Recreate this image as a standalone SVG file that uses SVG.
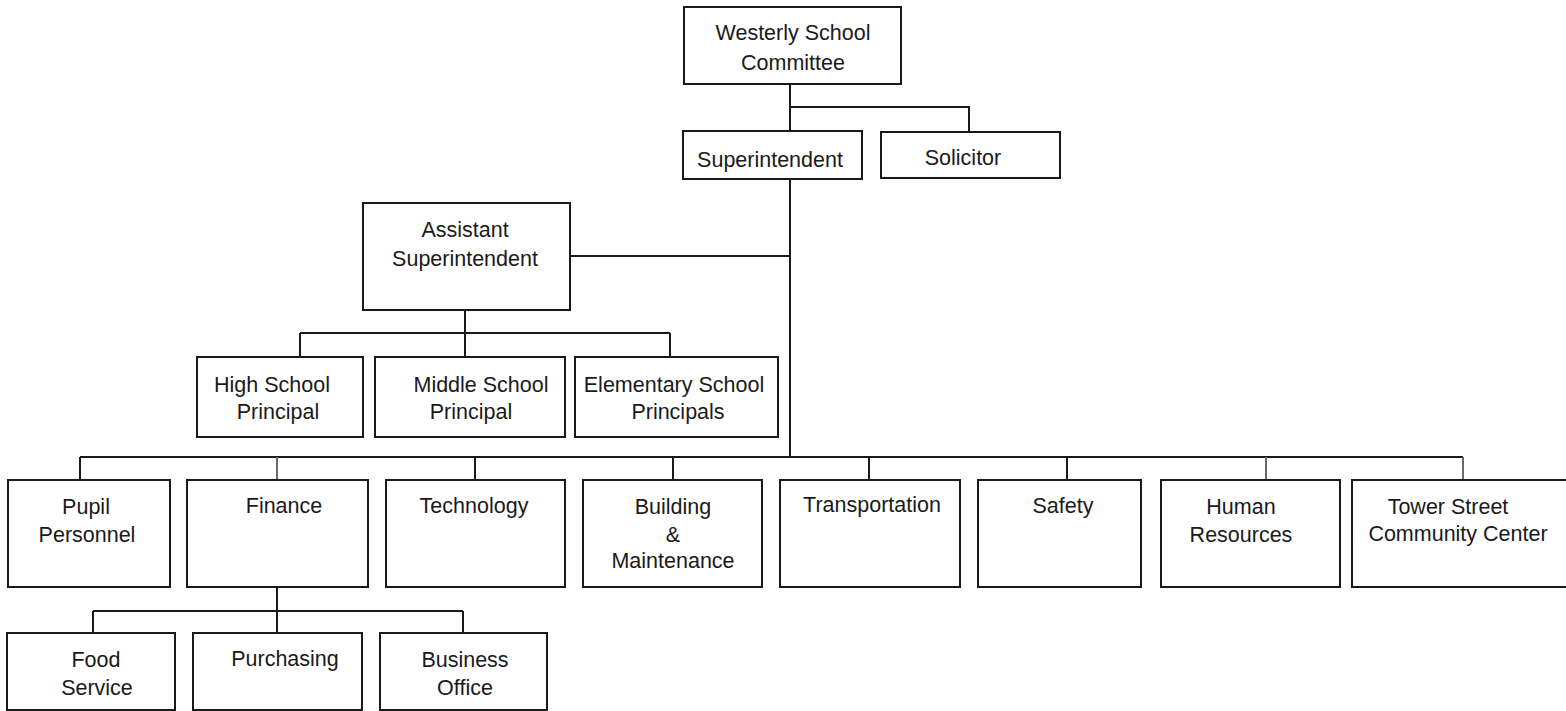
<svg xmlns="http://www.w3.org/2000/svg" width="1566" height="711" viewBox="0 0 1566 711">
<style>
.box{fill:#fff;stroke:#1a1a1a;stroke-width:2}
.ln{fill:none;stroke:#1a1a1a;stroke-width:2}
.gl{fill:none;stroke:#6a6a6a;stroke-width:2}
text{font-family:"Liberation Sans",Arial,sans-serif;font-size:21.5px;fill:#1a1a1a;text-anchor:middle}
</style>
<rect width="1566" height="711" fill="#fff"/>
<g id="connectors">
<path class="ln" d="M790,84V131M790,107H969V132M790,179V457M570,256H790"/>
<path class="ln" d="M465,310V333M300,333H670M300,333V357M465,333V357M670,333V357"/>
<path class="ln" d="M80,457H1463M80,457V480M475,457V480M673,457V480M869,457V480M1067,457V480"/>
<path class="gl" d="M277,457V480M1266,457V480M1463,457V480"/>
<path class="ln" d="M277,587V611M93,611H463M93,611V633M277,611V633M463,611V633"/>
</g>
<g id="committee"><rect class="box" x="684" y="7" width="217" height="77"/><text x="793" y="40">Westerly School</text><text x="793" y="70">Committee</text></g>
<g id="superintendent"><rect class="box" x="683" y="131" width="179" height="48"/><text x="770" y="167">Superintendent</text></g>
<g id="solicitor"><rect class="box" x="881" y="132" width="179" height="46"/><text x="963" y="165">Solicitor</text></g>
<g id="assistant"><rect class="box" x="363" y="203" width="207" height="107"/><text x="465" y="237">Assistant</text><text x="465" y="266">Superintendent</text></g>
<g id="high-school"><rect class="box" x="197" y="357" width="166" height="80"/><text x="272" y="392">High School</text><text x="278" y="419">Principal</text></g>
<g id="middle-school"><rect class="box" x="375" y="357" width="190" height="80"/><text x="481" y="392">Middle School</text><text x="471" y="419">Principal</text></g>
<g id="elementary"><rect class="box" x="575" y="357" width="203" height="80"/><text x="674" y="392">Elementary School</text><text x="678" y="419">Principals</text></g>
<g id="pupil"><rect class="box" x="8" y="480" width="162" height="107"/><text x="86" y="514">Pupil</text><text x="87" y="542">Personnel</text></g>
<g id="finance"><rect class="box" x="187" y="480" width="181" height="107"/><text x="284" y="513">Finance</text></g>
<g id="technology"><rect class="box" x="386" y="480" width="179" height="107"/><text x="474" y="513">Technology</text></g>
<g id="building"><rect class="box" x="583" y="480" width="179" height="107"/><text x="673" y="514">Building</text><text x="673" y="542">&amp;</text><text x="673" y="568">Maintenance</text></g>
<g id="transportation"><rect class="box" x="780" y="480" width="180" height="107"/><text x="872" y="512">Transportation</text></g>
<g id="safety"><rect class="box" x="978" y="480" width="163" height="107"/><text x="1063" y="513">Safety</text></g>
<g id="human-resources"><rect class="box" x="1161" y="480" width="179" height="107"/><text x="1241" y="514">Human</text><text x="1241" y="542">Resources</text></g>
<g id="tower-street"><rect class="box" x="1352" y="480" width="220" height="107"/><text x="1448" y="514">Tower Street</text><text x="1458" y="541">Community Center</text></g>
<g id="food-service"><rect class="box" x="7" y="633" width="168" height="77"/><text x="96" y="667">Food</text><text x="97" y="695">Service</text></g>
<g id="purchasing"><rect class="box" x="193" y="633" width="169" height="77"/><text x="285" y="666">Purchasing</text></g>
<g id="business-office"><rect class="box" x="380" y="633" width="167" height="77"/><text x="465" y="667">Business</text><text x="465" y="695">Office</text></g>
</svg>
